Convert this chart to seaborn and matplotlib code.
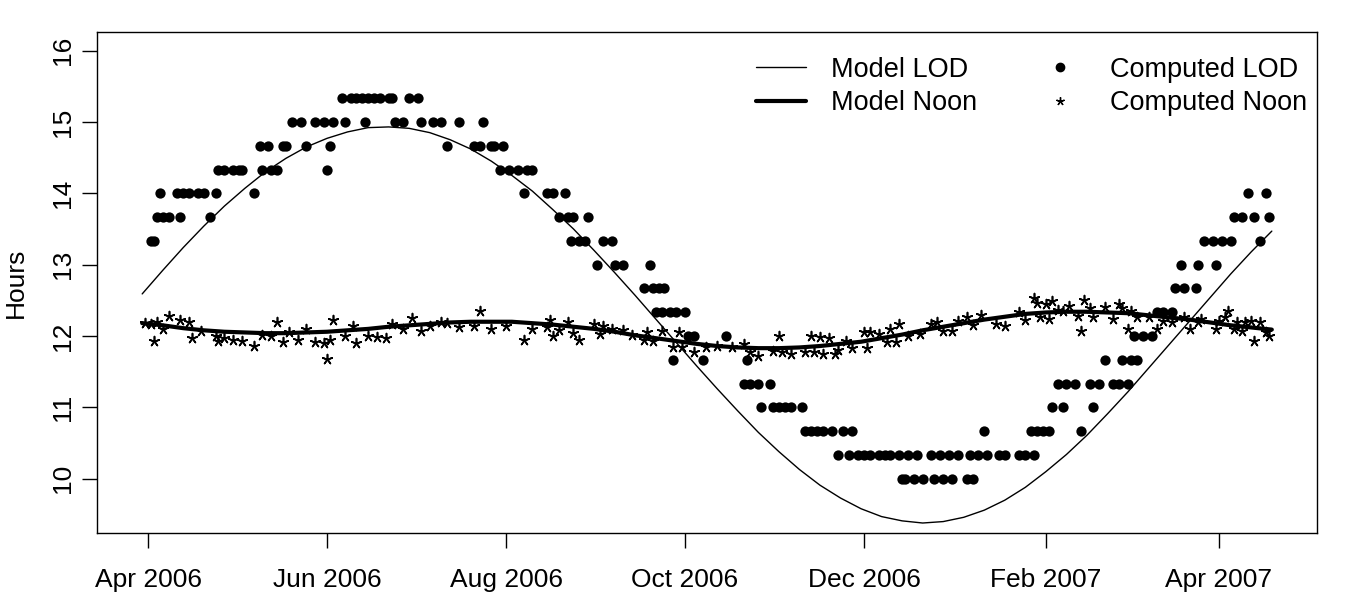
import matplotlib
matplotlib.use("Agg")
import matplotlib.pyplot as plt
import matplotlib.dates as mdates
from matplotlib.lines import Line2D
import seaborn as sns
import pandas as pd

# -------------------------------
# Data (day offsets count from 1 Apr 2006)
# -------------------------------
start = pd.Timestamp("2006-04-01")

# computed length of day, quantised to 20 minutes
lod_levels = [15.333, 15.0, 14.667, 14.333, 14.0, 13.667, 13.333, 13.0,
              12.667, 12.333, 12.0, 11.667, 11.333, 11.0, 10.667, 10.333, 10.0]
lod_level_days = [
    [66, 69, 71, 73, 75, 77, 79, 82, 83, 89, 92],
    [49, 52, 57, 60, 63, 67, 74, 84, 87, 93, 97, 100, 106, 114],
    [38, 41, 46, 47, 54, 62, 102, 111, 113, 117, 118, 121],
    [24, 26, 29, 31, 32, 39, 42, 44, 61, 120, 123, 126, 129, 131],
    [4, 10, 12, 14, 17, 19, 23, 36, 128, 136, 138, 142, 375, 381],
    [3, 5, 7, 11, 21, 140, 143, 145, 150, 370, 373, 377, 382],
    [1, 2, 144, 147, 149, 155, 158, 360, 363, 366, 369, 379],
    [153, 159, 162, 171, 352, 358, 364],
    [169, 172, 174, 176, 350, 353, 357],
    [173, 175, 178, 180, 183, 344, 346, 349],
    [184, 186, 197, 336, 339, 342],
    [179, 189, 204, 326, 332, 335, 337],
    [203, 205, 208, 212, 310, 313, 316, 321, 324, 329, 331, 334],
    [209, 213, 215, 217, 219, 223, 308, 312, 322],
    [224, 226, 228, 230, 233, 237, 240, 285, 301, 303, 305, 307, 318],
    [235, 239, 242, 244, 246, 249, 251, 253, 256, 259, 262, 267, 270,
     273, 276, 280, 283, 286, 290, 292, 297, 299, 302],
    [257, 258, 261, 264, 268, 271, 274, 279, 281],
]

# computed solar noon
noon_days = [
    -1, 1, 2, 3, 5, 7, 11, 14, 15, 18, 23, 24, 26, 29, 32, 36, 39, 42, 44, 46,
    48, 51, 54, 57, 60, 61, 62, 63, 67, 70, 71, 75, 78, 81, 83, 87, 90, 93, 96, 100,
    102, 106, 111, 113, 117, 122, 128, 131, 136, 137, 138, 140, 143, 145, 147, 152, 154, 155, 158, 162,
    165, 169, 170, 172, 175, 179, 181, 182, 186, 190, 194, 199, 203, 205, 208, 213, 215, 216, 219, 224,
    226, 227, 229, 230, 232, 234, 235, 238, 240, 244, 245, 246, 249, 252, 253, 255, 256, 259, 263, 267,
    269, 271, 274, 276, 279, 281, 284, 289, 292, 297, 299, 302, 303, 304, 306, 307, 308, 310, 312, 314,
    317, 318, 319, 321, 322, 326, 329, 331, 332, 334, 335, 337, 341, 344, 346, 349, 353, 355, 358, 359,
    364, 365, 367, 368, 370, 371, 373, 374, 376, 377, 379, 381, 382,
]
noon_hours = [
    12.18, 12.17, 11.93, 12.19, 12.10, 12.28, 12.22, 12.20, 11.97, 12.07,
    12.00, 11.93, 11.97, 11.94, 11.93, 11.86, 12.01, 12.00, 12.20, 11.91,
    12.05, 11.94, 12.10, 11.91, 11.90, 11.68, 11.94, 12.22, 12.00, 12.14,
    11.90, 12.00, 11.98, 11.97, 12.17, 12.10, 12.25, 12.07, 12.14, 12.20,
    12.18, 12.12, 12.14, 12.35, 12.10, 12.14, 11.95, 12.10, 12.13, 12.23,
    12.00, 12.09, 12.20, 12.04, 11.95, 12.17, 12.03, 12.14, 12.10, 12.08,
    12.02, 11.95, 12.06, 11.93, 12.07, 11.85, 12.06, 11.84, 11.77, 11.85,
    11.86, 11.84, 11.89, 11.78, 11.72, 11.79, 12.00, 11.78, 11.75, 11.78,
    12.00, 11.78, 11.98, 11.75, 11.97, 11.75, 11.80, 11.93, 11.83, 12.06,
    11.83, 12.05, 12.03, 11.91, 12.10, 11.91, 12.17, 12.00, 12.03, 12.17,
    12.19, 12.07, 12.07, 12.21, 12.27, 12.15, 12.29, 12.17, 12.14, 12.34,
    12.23, 12.53, 12.46, 12.26, 12.45, 12.24, 12.49, 12.36, 12.35, 12.42,
    12.28, 12.07, 12.51, 12.39, 12.26, 12.41, 12.24, 12.45, 12.39, 12.10,
    12.35, 12.26, 12.26, 12.10, 12.21, 12.19, 12.26, 12.10, 12.19, 12.24,
    12.10, 12.21, 12.26, 12.35, 12.10, 12.19, 12.07, 12.19, 12.21, 11.93,
    12.19, 12.05, 12.00,
]

# model curves, sampled weekly from 30 Mar 2006
model_dates = pd.date_range("2006-03-30", periods=56, freq="7D")
model_lod = [
    12.59, 12.92, 13.24, 13.54, 13.82, 14.07, 14.30, 14.49, 14.65, 14.77,
    14.86, 14.92, 14.93, 14.91, 14.85, 14.75, 14.62, 14.45, 14.25, 14.03,
    13.77, 13.50, 13.20, 12.89, 12.57, 12.24, 11.91, 11.58, 11.26, 10.95,
    10.65, 10.38, 10.13, 9.91, 9.73, 9.58, 9.47, 9.41, 9.38, 9.40,
    9.46, 9.56, 9.70, 9.88, 10.10, 10.34, 10.61, 10.91, 11.22, 11.55,
    11.88, 12.21, 12.54, 12.87, 13.18, 13.47,
]
model_noon = [
    12.18, 12.15, 12.11, 12.08, 12.06, 12.05, 12.04, 12.04, 12.05, 12.06,
    12.08, 12.10, 12.13, 12.15, 12.17, 12.19, 12.20, 12.20, 12.20, 12.18,
    12.16, 12.13, 12.10, 12.06, 12.01, 11.97, 11.93, 11.89, 11.86, 11.84,
    11.83, 11.83, 11.84, 11.86, 11.89, 11.92, 11.97, 12.02, 12.08, 12.13,
    12.18, 12.23, 12.27, 12.31, 12.33, 12.34, 12.34, 12.33, 12.32, 12.29,
    12.26, 12.23, 12.19, 12.15, 12.12, 12.09,
]

# -------------------------------
# DataFrames
# -------------------------------
lod_rows = []
for nivel, dias in zip(lod_levels, lod_level_days):
    for d in dias:
        lod_rows.append({"date": start + pd.Timedelta(days=d), "hours": nivel})
df_lod = pd.DataFrame(lod_rows)

df_noon = pd.DataFrame({
    "date": start + pd.to_timedelta(noon_days, unit="D"),
    "hours": noon_hours,
})

df_model = pd.DataFrame({
    "date": model_dates,
    "lod": model_lod,
    "noon": model_noon,
})

# -------------------------------
# Plot
# -------------------------------
sns.set_style("ticks")
plt.rcParams["font.family"] = ["Liberation Sans", "DejaVu Sans"]
plt.rcParams["text.color"] = "black"
plt.rcParams["axes.labelcolor"] = "black"
plt.rcParams["xtick.color"] = "black"
plt.rcParams["ytick.color"] = "black"
fs = 19

fig = plt.figure(figsize=(13.5, 6), dpi=100)
ax = fig.add_axes([97 / 1350, 67 / 600, 1220 / 1350, 501 / 600])

sns.scatterplot(data=df_lod, x="date", y="hours", marker="o", s=55,
                color="black", linewidth=0, ax=ax, zorder=2)
sns.scatterplot(data=df_noon, x="date", y="hours", marker=(5, 2, 0), s=50,
                color="black", linewidth=1.2, ax=ax, zorder=2)
sns.lineplot(data=df_model, x="date", y="lod", color="black", lw=1.0,
             ax=ax, zorder=3)
sns.lineplot(data=df_model, x="date", y="noon", color="black", lw=3.0,
             ax=ax, zorder=3)

# R-like 4% padding
span = df_model["date"].max() - df_model["date"].min()
ax.set_xlim(df_model["date"].min() - 0.04 * span,
            df_model["date"].max() + 0.04 * span)
ax.set_ylim(9.5 - 0.04 * 6.5, 16 + 0.04 * 6.5)

ax.xaxis.set_major_locator(mdates.MonthLocator(bymonth=[2, 4, 6, 8, 10, 12]))
ax.xaxis.set_major_formatter(mdates.DateFormatter("%b %Y"))
ax.set_yticks([10, 11, 12, 13, 14, 15, 16])

ax.set_xlabel("")
ax.set_ylabel("Hours", fontsize=fs)
ax.yaxis.set_label_coords(-0.0566, 0.5)
ax.tick_params(axis="both", labelsize=fs, length=11, width=1.0,
               color="black", labelcolor="black")
ax.tick_params(axis="x", pad=14)
ax.tick_params(axis="y", pad=5)
for lab in ax.get_yticklabels():
    lab.set_rotation(90)
    lab.set_va("center")

for s in ax.spines.values():
    s.set_color("black")
    s.set_linewidth(1.0)

handles = [
    Line2D([], [], color="black", lw=1.0),
    Line2D([], [], color="black", lw=3.0),
    Line2D([], [], color="black", marker="o", ls="", markersize=6),
    Line2D([], [], color="black", marker=(5, 2, 0), ls="", markersize=6, mew=1.0),
]
labels = ["Model LOD", "Model Noon", "Computed LOD", "Computed Noon"]
ax.legend(handles, labels, ncol=2, frameon=False, fontsize=19.5,
          loc="upper right", bbox_to_anchor=(0.992, 0.951),
          handlelength=1.85, handletextpad=0.92, columnspacing=2.15,
          labelspacing=0.28, borderpad=0, borderaxespad=0)

plt.savefig("out.png", dpi=100)
